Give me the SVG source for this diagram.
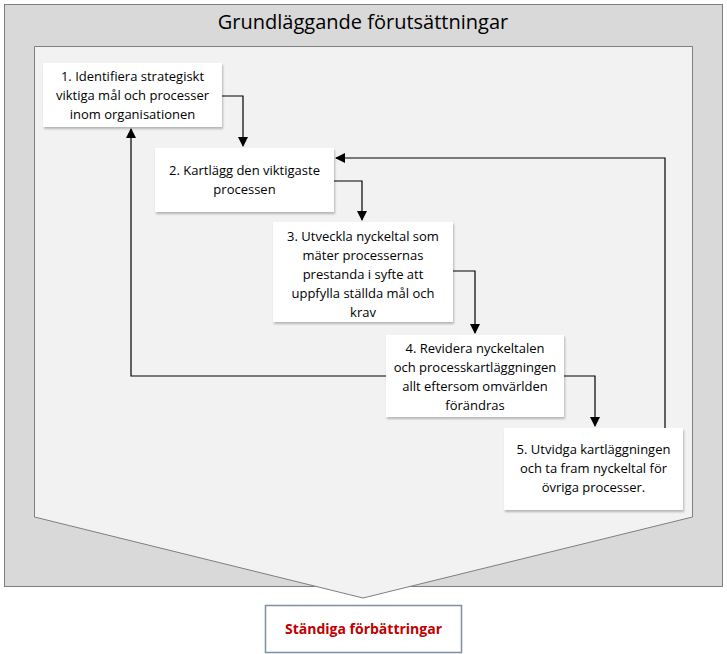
<svg xmlns="http://www.w3.org/2000/svg" width="727" height="654" viewBox="0 0 727 654">
<defs>
<marker id="ah" markerWidth="10" markerHeight="10" refX="9" refY="5" orient="auto" markerUnits="userSpaceOnUse"><path d="M0,0 L10,5 L0,10 z" fill="#000"/></marker>
<filter id="sh" x="-5%" y="-5%" width="115%" height="120%"><feDropShadow dx="1" dy="2" stdDeviation="1.2" flood-color="#000" flood-opacity="0.25"/></filter>
</defs>
<style>
.box{fill:#fff;filter:url(#sh)}
.t{font-family:"Open Sans","Liberation Sans",sans-serif;font-size:13px;fill:#000;text-anchor:middle}
.c{fill:none;stroke:#000;stroke-width:1.2}
</style>
<rect width="727" height="654" fill="#fff"/>
<g id="outer">
<rect x="4.5" y="4.5" width="718" height="582" fill="#d9d9d9" stroke="#7f7f7f"/>
<text x="363" y="29" font-family="'Open Sans','Liberation Sans',sans-serif" font-size="20" text-anchor="middle">Grundläggande förutsättningar</text>
<polygon points="34.5,46.5 692.5,46.5 692.5,517 363,598 34.5,517" fill="#f2f2f2" stroke="#7f7f7f"/>
</g>
<g id="connectors">
<path class="c" d="M222,96 H243 V146" marker-end="url(#ah)"/>
<path class="c" d="M334,181 H362 V220" marker-end="url(#ah)"/>
<path class="c" d="M453,271 H475 V333" marker-end="url(#ah)"/>
<path class="c" d="M564,376 H595 V426" marker-end="url(#ah)"/>
<path class="c" d="M665,428 V158 H336" marker-end="url(#ah)"/>
<path class="c" d="M386,376 H131 V129" marker-end="url(#ah)"/>
</g>
<g id="n1"><rect class="box" x="43" y="63" width="179" height="64"/>
<text class="t" x="132.5" y="81">1. Identifiera strategiskt</text><text class="t" x="132.5" y="100">viktiga mål och processer</text><text class="t" x="132.5" y="119">inom organisationen</text></g>
<g id="n2"><rect class="box" x="155" y="148" width="179" height="64"/>
<text class="t" x="244.5" y="175">2. Kartlägg den viktigaste</text><text class="t" x="244.5" y="194">processen</text></g>
<g id="n3"><rect class="box" x="273" y="222" width="180" height="100"/>
<text class="t" x="363" y="241">3. Utveckla nyckeltal som</text><text class="t" x="363" y="260">mäter processernas</text><text class="t" x="363" y="279">prestanda i syfte att</text><text class="t" x="363" y="298">uppfylla ställda mål och</text><text class="t" x="363" y="317">krav</text></g>
<g id="n4"><rect class="box" x="386" y="335" width="178" height="82"/>
<text class="t" x="475" y="353">4. Revidera nyckeltalen</text><text class="t" x="475" y="372">och processkartläggningen</text><text class="t" x="475" y="391">allt eftersom omvärlden</text><text class="t" x="475" y="410">förändras</text></g>
<g id="n5"><rect class="box" x="504" y="428" width="179" height="82"/>
<text class="t" x="593.5" y="454">5. Utvidga kartläggningen</text><text class="t" x="593.5" y="473">och ta fram nyckeltal för</text><text class="t" x="593.5" y="492">övriga processer.</text></g>
<g id="n6"><rect x="265.5" y="605.5" width="196" height="47" fill="#fff" stroke="#7f8fa0" stroke-width="1.5"/>
<text x="363.5" y="634" font-family="'Open Sans','Liberation Sans',sans-serif" font-size="14" font-weight="bold" fill="#c00000" text-anchor="middle">Ständiga förbättringar</text></g>
</svg>
